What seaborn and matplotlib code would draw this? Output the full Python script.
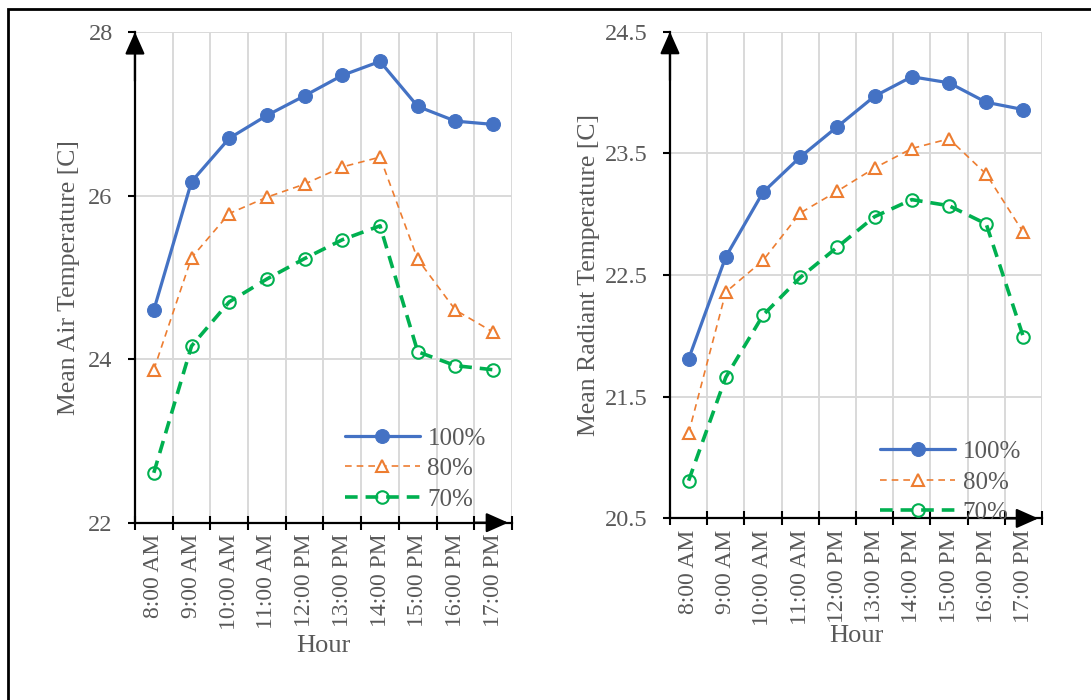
import matplotlib.pyplot as plt
import matplotlib.patches as mpatches
import numpy as np
import pandas as pd
import seaborn as sns

hours = ['8:00 AM', '9:00 AM', '10:00 AM', '11:00 AM', '12:00 PM',
         '13:00 PM', '14:00 PM', '15:00 PM', '16:00 PM', '17:00 PM']

# Mean air temperature [C]
air_100 = [24.60, 26.17, 26.70, 26.98, 27.22, 27.47, 27.64, 27.09, 26.91, 26.87]
air_80 = [23.87, 25.24, 25.78, 25.98, 26.14, 26.35, 26.47, 25.22, 24.60, 24.33]
air_70 = [22.61, 24.16, 24.70, 24.98, 25.23, 25.46, 25.63, 24.09, 23.92, 23.87]

# Mean radiant temperature [C]
mrt_100 = [21.81, 22.65, 23.18, 23.47, 23.72, 23.97, 24.13, 24.08, 23.92, 23.86]
mrt_80 = [21.20, 22.36, 22.62, 23.01, 23.19, 23.38, 23.54, 23.62, 23.33, 22.85]
mrt_70 = [20.81, 21.66, 22.17, 22.48, 22.73, 22.98, 23.12, 23.07, 22.92, 21.99]

series_names = ['100%', '80%', '70%']

sns.set_style('white')
plt.rcParams['font.family'] = ['Liberation Serif', 'DejaVu Serif']
TEXT = '#595959'

# line styles per series
styles = {
    '100%': dict(color='#4472C4', linewidth=2.3, linestyle='-', marker='o',
                 markersize=10, markerfacecolor='#4472C4', markeredgecolor='#4472C4'),
    '80%': dict(color='#ED7D31', linewidth=1.2, linestyle=(0, (4, 3)), marker='^',
                markersize=9, markerfacecolor='white', markeredgecolor='#ED7D31',
                markeredgewidth=1.5),
    '70%': dict(color='#00B050', linewidth=2.6, linestyle=(0, (3.5, 2.2)), marker='o',
                markersize=9, markerfacecolor='none', markeredgecolor='#00B050',
                markeredgewidth=1.5),
}


def draw_panel(ax, values, ylim, yticks, ylabel, fmt, ylab_x, xlab_y, leg_xy):
    pos = np.arange(len(hours))
    for name, vals in zip(series_names, values):
        df = pd.DataFrame({'pos': pos, 'temp': vals})
        sns.lineplot(data=df, x='pos', y='temp', ax=ax, sort=False,
                     label=name, **styles[name])

    ax.set_xlim(-0.5, len(hours) - 0.5)
    ax.set_ylim(*ylim)
    ax.set_yticks(yticks, labels=[fmt.format(v) for v in yticks])
    ax.set_xticks(np.arange(len(hours) + 1) - 0.5, labels=[])
    ax.set_xticks(pos, labels=hours, minor=True, rotation=90)

    ax.grid(True, which='major', color='#D9D9D9', linewidth=1.4)
    ax.set_axisbelow(True)
    for s in ['top', 'right']:
        ax.spines[s].set_visible(False)
    for s in ['left', 'bottom']:
        ax.spines[s].set_color('black')
        ax.spines[s].set_linewidth(1.6)

    ax.tick_params(axis='y', which='major', direction='out', length=5, width=1.5,
                   color='black', labelsize=17.5, labelcolor=TEXT, pad=11, left=True)
    ax.tick_params(axis='x', which='major', direction='inout', length=10, width=1.5,
                   color='black', bottom=True)
    ax.tick_params(axis='x', which='minor', length=0, labelsize=17,
                   labelcolor=TEXT, pad=8, bottom=True)

    ax.set_ylabel(ylabel, fontsize=18.5, color=TEXT)
    ax.yaxis.set_label_coords(ylab_x, 0.5)
    ax.set_xlabel('Hour', fontsize=19, color=TEXT)
    ax.xaxis.set_label_coords(0.5, xlab_y)

    # arrow heads on the axes
    arrow = dict(arrowstyle='-|>,head_length=0.9,head_width=0.4', color='black',
                 lw=1.6, mutation_scale=15, shrinkA=0, shrinkB=0)
    ax.annotate('', xy=(0, 1.0), xytext=(0, 0.9), xycoords='axes fraction',
                arrowprops=arrow, annotation_clip=False)
    ax.annotate('', xy=(0.99, 0), xytext=(0.9, 0), xycoords='axes fraction',
                arrowprops=arrow, annotation_clip=False)

    leg = ax.legend(loc='upper left', bbox_to_anchor=leg_xy, frameon=False,
                    fontsize=18, handlelength=3.0, handletextpad=0.3,
                    labelspacing=0.32, borderpad=0, borderaxespad=0)
    for t in leg.get_texts():
        t.set_color(TEXT)


fig = plt.figure(figsize=(10.91, 7.0), dpi=100)
fig.patch.set_facecolor('white')

ax1 = fig.add_axes([0.1237, 0.2533, 0.3456, 0.7010])
ax2 = fig.add_axes([0.6141, 0.2594, 0.3410, 0.6953])

draw_panel(ax1, [air_100, air_80, air_70], (22, 28), [22, 24, 26, 28],
           'Mean Air Temperature [C]', '{:.0f}', -0.146, -0.229, (0.557, 0.195))
draw_panel(ax2, [mrt_100, mrt_80, mrt_70], (20.5, 24.5),
           [20.5, 21.5, 22.5, 23.5, 24.5],
           'Mean Radiant Temperature [C]', '{:.1f}', -0.188, -0.218, (0.565, 0.16))

# outer frame (only left and top edges fall inside the image)
frame = mpatches.Rectangle((8 / 1091, -0.1), 1.2, 1.1 - 9 / 700,
                           transform=fig.transFigure, fill=False,
                           edgecolor='black', linewidth=2.0, clip_on=False)
fig.add_artist(frame)

fig.savefig('out.png', dpi=100, facecolor='white')
